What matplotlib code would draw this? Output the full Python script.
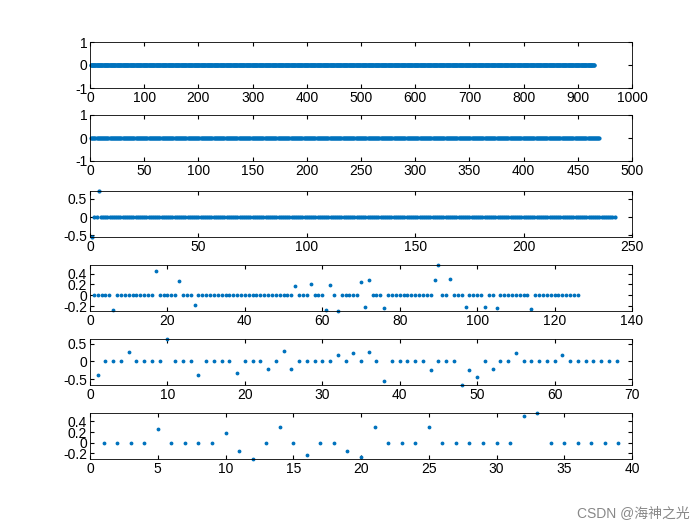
import numpy as np
import matplotlib
matplotlib.use("Agg")
import matplotlib.pyplot as plt

plt.rcParams["font.family"] = ["Liberation Sans", "Noto Sans CJK SC", "DejaVu Sans"]
plt.rcParams["font.size"] = 10

# point counts per panel (all zeros except listed entries)
n1, n2, n3, n4, n5, n6 = 930, 470, 242, 126, 68, 39

d3 = {1: -0.55, 4: 0.72}
d4 = {6: -0.27, 17: 0.45, 23: 0.26, 27: -0.18, 53: 0.18, 57: 0.21, 61: -0.27,
      62: 0.19, 64: -0.29, 70: 0.24, 71: -0.22, 72: 0.29, 76: -0.23, 89: 0.29,
      90: 0.56, 93: 0.31, 97: -0.22, 102: -0.22, 105: -0.24, 114: -0.26}
d5 = {1: -0.37, 5: 0.27, 10: 0.63, 14: -0.39, 19: -0.33, 23: -0.22, 25: 0.30,
      26: -0.20, 32: 0.17, 34: 0.24, 36: 0.27, 38: -0.55, 44: -0.23, 48: -0.66,
      49: -0.25, 50: -0.43, 52: -0.20, 55: 0.25, 61: 0.17}
d6 = {5: 0.25, 10: 0.18, 11: -0.16, 12: -0.31, 14: 0.30, 16: -0.24, 19: -0.16,
      20: -0.28, 21: 0.30, 25: 0.29, 32: 0.50, 33: 0.56}

panels = [
    (n1, {}, (0, 1000), (-1, 1), [-1, 0, 1], np.arange(0, 1001, 100)),
    (n2, {}, (0, 500), (-1, 1), [-1, 0, 1], np.arange(0, 501, 50)),
    (n3, d3, (0, 250), (-0.55, 0.72), [-0.5, 0, 0.5], np.arange(0, 251, 50)),
    (n4, d4, (0, 140), (-0.29, 0.56), [-0.2, 0, 0.2, 0.4], np.arange(0, 141, 20)),
    (n5, d5, (0, 70), (-0.66, 0.63), [-0.5, 0, 0.5], np.arange(0, 71, 10)),
    (n6, d6, (0, 40), (-0.31, 0.56), [-0.2, 0, 0.2, 0.4], np.arange(0, 41, 5)),
]

fig = plt.figure(figsize=(7, 5.25), dpi=100)
tops = [42, 115, 191, 265, 339, 413]
for (n, d, xl, yl, yt, xt), top in zip(panels, tops):
    ax = fig.add_axes([90 / 700, 1 - (top + 46) / 525, 542 / 700, 46 / 525])
    x = np.arange(1, n + 1)
    y = np.zeros(n)
    for k, v in d.items():
        y[k - 1] = v
    ms = 4 if n > 200 else 3.5
    ax.plot(x, y, ".", color="#0072BD", markersize=ms, clip_on=False)
    ax.set_xlim(*xl)
    ax.set_ylim(*yl)
    ax.set_yticks(yt)
    ax.set_yticklabels([f"{v:g}" for v in yt])
    ax.set_xticks(xt)
    ax.tick_params(direction="in", length=3, top=True, right=True, pad=2)
    for s in ax.spines.values():
        s.set_linewidth(0.6)

fig.text(0.985, 0.01, "CSDN @海神之光", ha="right", va="bottom", fontsize=10, color="#888888")
fig.savefig("out.png", dpi=100, facecolor="white")
